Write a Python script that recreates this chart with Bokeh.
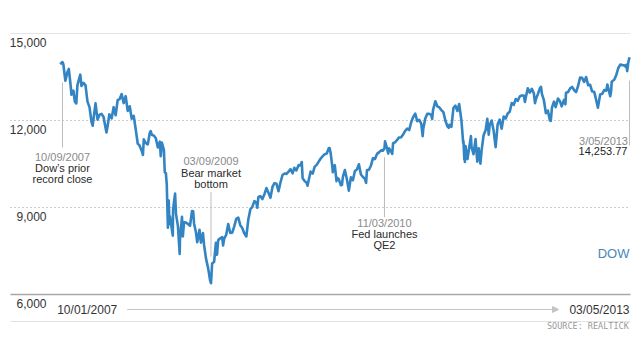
from datetime import datetime, timedelta
import pandas as pd
from bokeh.plotting import figure
from bokeh.models import Range1d, ColumnDataSource, Arrow, NormalHead
from bokeh.core.properties import value
from bokeh.embed import file_html
from bokeh.resources import INLINE

# ---------------- data ----------------
dates = [
    "2007-10-01", "2007-10-09", "2007-10-12", "2007-10-19", "2007-10-26", "2007-10-31",
    "2007-11-07", "2007-11-09", "2007-11-16", "2007-11-21", "2007-11-26", "2007-11-30",
    "2007-12-07", "2007-12-10", "2007-12-14", "2007-12-21", "2007-12-28",
    "2008-01-04", "2008-01-11", "2008-01-18", "2008-01-22", "2008-01-25", "2008-02-01",
    "2008-02-08", "2008-02-15", "2008-02-22", "2008-02-29", "2008-03-07", "2008-03-10",
    "2008-03-14", "2008-03-20", "2008-03-28", "2008-04-04", "2008-04-11", "2008-04-18",
    "2008-04-25", "2008-05-02", "2008-05-09", "2008-05-16", "2008-05-23", "2008-05-30",
    "2008-06-06", "2008-06-13", "2008-06-20", "2008-06-27", "2008-07-03", "2008-07-11",
    "2008-07-15", "2008-07-18", "2008-07-25", "2008-08-01", "2008-08-08", "2008-08-11",
    "2008-08-15", "2008-08-22", "2008-08-29", "2008-09-05", "2008-09-12", "2008-09-15",
    "2008-09-19", "2008-09-26", "2008-09-29", "2008-10-03", "2008-10-06", "2008-10-10",
    "2008-10-13", "2008-10-15", "2008-10-17", "2008-10-22", "2008-10-24", "2008-10-27",
    "2008-10-28", "2008-10-31", "2008-11-04", "2008-11-07", "2008-11-14", "2008-11-20",
    "2008-11-21", "2008-11-28", "2008-12-01", "2008-12-05", "2008-12-12", "2008-12-19",
    "2008-12-26",
    "2009-01-02", "2009-01-06", "2009-01-09", "2009-01-16", "2009-01-20", "2009-01-23",
    "2009-01-28", "2009-02-02", "2009-02-09", "2009-02-13", "2009-02-20", "2009-02-27",
    "2009-03-06", "2009-03-09", "2009-03-13", "2009-03-20", "2009-03-26", "2009-03-30",
    "2009-04-03", "2009-04-09", "2009-04-17", "2009-04-20", "2009-04-24", "2009-05-01",
    "2009-05-08", "2009-05-15", "2009-05-22", "2009-05-29", "2009-06-05", "2009-06-12",
    "2009-06-19", "2009-06-26", "2009-07-02", "2009-07-10", "2009-07-17", "2009-07-24",
    "2009-07-31", "2009-08-07", "2009-08-14", "2009-08-17", "2009-08-21", "2009-08-28",
    "2009-09-04", "2009-09-11", "2009-09-18", "2009-09-25", "2009-10-02", "2009-10-09",
    "2009-10-16", "2009-10-23", "2009-10-30", "2009-11-06", "2009-11-13", "2009-11-20",
    "2009-11-27", "2009-12-04", "2009-12-11", "2009-12-18", "2009-12-24", "2009-12-31",
    "2010-01-08", "2010-01-15", "2010-01-19", "2010-01-22", "2010-01-29", "2010-02-05",
    "2010-02-08", "2010-02-12", "2010-02-19", "2010-02-26", "2010-03-05", "2010-03-12",
    "2010-03-19", "2010-03-26", "2010-04-02", "2010-04-09", "2010-04-16", "2010-04-23",
    "2010-04-26", "2010-04-30", "2010-05-06", "2010-05-07", "2010-05-14", "2010-05-20",
    "2010-05-21", "2010-05-28", "2010-06-04", "2010-06-08", "2010-06-11", "2010-06-18",
    "2010-06-25", "2010-07-02", "2010-07-09", "2010-07-16", "2010-07-23", "2010-07-30",
    "2010-08-06", "2010-08-13", "2010-08-20", "2010-08-27", "2010-08-31", "2010-09-03",
    "2010-09-10", "2010-09-17", "2010-09-24", "2010-10-01", "2010-10-08", "2010-10-15",
    "2010-10-22", "2010-10-29", "2010-11-03", "2010-11-05", "2010-11-12", "2010-11-16",
    "2010-11-19", "2010-11-26", "2010-11-30", "2010-12-03", "2010-12-10", "2010-12-17",
    "2010-12-23", "2010-12-31",
    "2011-01-07", "2011-01-14", "2011-01-21", "2011-01-28", "2011-02-04", "2011-02-11",
    "2011-02-18", "2011-02-25", "2011-03-04", "2011-03-11", "2011-03-16", "2011-03-18",
    "2011-03-25", "2011-04-01", "2011-04-08", "2011-04-15", "2011-04-18", "2011-04-21",
    "2011-04-29", "2011-05-06", "2011-05-13", "2011-05-20", "2011-05-27", "2011-06-03",
    "2011-06-10", "2011-06-15", "2011-06-17", "2011-06-24", "2011-07-01", "2011-07-08",
    "2011-07-15", "2011-07-21", "2011-07-29", "2011-08-04", "2011-08-05", "2011-08-08",
    "2011-08-09", "2011-08-10", "2011-08-12", "2011-08-19", "2011-08-26", "2011-08-31",
    "2011-09-02", "2011-09-09", "2011-09-16", "2011-09-22", "2011-09-27", "2011-09-30",
    "2011-10-03", "2011-10-07", "2011-10-14", "2011-10-21", "2011-10-27", "2011-11-01",
    "2011-11-04", "2011-11-11", "2011-11-18", "2011-11-25", "2011-12-02", "2011-12-09",
    "2011-12-16", "2011-12-23", "2011-12-30",
    "2012-01-06", "2012-01-13", "2012-01-20", "2012-01-27", "2012-02-03", "2012-02-10",
    "2012-02-17", "2012-02-24", "2012-03-02", "2012-03-06", "2012-03-09", "2012-03-16",
    "2012-03-23", "2012-03-30", "2012-04-06", "2012-04-10", "2012-04-13", "2012-04-20",
    "2012-04-27", "2012-05-01", "2012-05-04", "2012-05-11", "2012-05-18", "2012-05-25",
    "2012-06-01", "2012-06-04", "2012-06-08", "2012-06-15", "2012-06-21", "2012-06-29",
    "2012-07-06", "2012-07-12", "2012-07-20", "2012-07-25", "2012-07-27", "2012-08-03",
    "2012-08-10", "2012-08-17", "2012-08-24", "2012-08-31", "2012-09-07", "2012-09-14",
    "2012-09-21", "2012-09-28", "2012-10-05", "2012-10-12", "2012-10-19", "2012-10-26",
    "2012-11-02", "2012-11-09", "2012-11-15", "2012-11-23", "2012-11-30", "2012-12-07",
    "2012-12-14", "2012-12-18", "2012-12-28", "2012-12-31",
    "2013-01-02", "2013-01-04", "2013-01-11", "2013-01-18", "2013-01-25", "2013-02-01",
    "2013-02-08", "2013-02-15", "2013-02-20", "2013-02-22", "2013-02-25", "2013-03-01",
    "2013-03-05",
]
dow = [
    13940, 14015, 13940, 13370, 13660, 13780,
    13150, 12890, 13030, 12650, 12590, 13220,
    13480, 13580, 13190, 13300, 13220,
    12650, 12460, 11950, 11820, 12060, 12590,
    12030, 12200, 12230, 12120, 11740, 11590,
    11800, 12210, 12070, 12460, 12180, 12700,
    12740, 12910, 12600, 12840, 12330, 12490,
    12060, 12160, 11690, 11200, 11140, 10950,
    10810, 11350, 11220, 11180, 11580, 11630,
    11510, 11480, 11390, 11070, 11270, 10770,
    11240, 10990, 10220, 10180, 9800, 8300,
    9240, 8430, 8700, 8370, 8230, 8030,
    8920, 9180, 9480, 8790, 8350, 7400,
    7900, 8680, 8000, 8490, 8480, 8430,
    8370,
    8880, 8870, 8450, 8130, 7800, 7930,
    8230, 7790, 8120, 7700, 7220, 6910,
    6480, 6390, 7070, 7130, 7780, 7370,
    7870, 7930, 7980, 7690, 7930, 8060,
    8430, 8120, 8130, 8350, 8610, 8650,
    8390, 8290, 8130, 8000, 8590, 8940,
    9020, 9220, 9170, 8990, 9360, 9390,
    9290, 9460, 9670, 9510, 9340, 9710,
    9840, 9820, 9560, 9870, 10120, 10170,
    10160, 10240, 10320, 10180, 10370, 10280,
    10460, 10450, 10570, 10010, 9910, 9850,
    9750, 9940, 10240, 10170, 10410, 10470,
    10580, 10690, 10770, 10840, 10860, 11040,
    11050, 10850, 10360, 10220, 10460, 9910,
    10030, 9980, 9770, 9780, 10050, 10290,
    9980, 9580, 10040, 9940, 10260, 10310,
    10490, 10140, 10050, 9990, 9850, 10290,
    10300, 10450, 10700, 10670, 10850, 10900,
    10970, 10960, 11050, 11280, 11030, 10860,
    11040, 10930, 10850, 11220, 11250, 11330,
    11410, 11420,
    11520, 11640, 11720, 11670, 11940, 12120,
    12240, 11980, 12020, 11890, 11460, 11710,
    12070, 12230, 12230, 12190, 12050, 12360,
    12660, 12490, 12450, 12360, 12290, 12000,
    11800, 11750, 11850, 11780, 12430, 12510,
    12330, 12570, 11990, 11230, 11290, 10660,
    11090, 10570, 11120, 10670, 11130, 11460,
    11090, 10840, 11360, 10580, 11040, 10760,
    10510, 10950, 11490, 11660, 12060, 11510,
    11830, 12000, 11650, 11080, 11870, 12030,
    11720, 12140, 12070,
    12240, 12300, 12600, 12540, 12740, 12680,
    12830, 12860, 12860, 12640, 12800, 13110,
    12960, 13090, 12940, 12600, 12730, 12910,
    13110, 13160, 12920, 12700, 12250, 12340,
    12000, 11990, 12440, 12650, 12460, 12760,
    12660, 12490, 12710, 12560, 12960, 12980,
    13100, 13160, 13050, 12980, 13190, 13480,
    13470, 13330, 13500, 13220, 13230, 13000,
    12990, 12710, 12440, 12900, 12920, 13050,
    13030, 13240, 12840, 13000,
    13330, 13350, 13410, 13570, 13810, 13930,
    13910, 13900, 13850, 13920, 13700, 14010,
    14180,
]
y_ticks = [15000, 12000, 9000, 6000]
y_tick_labels = ["15,000", "12,000", "9,000", "6,000"]
grid_dotted = [12000, 9000]

event_dates = ["2007-10-09", "2009-03-09", "2010-11-03"]
event_date_labels = ["10/09/2007", "03/09/2009", "11/03/2010"]
event_line1 = ["Dow\u2019s prior", "Bear market", "Fed launches"]
event_line2 = ["record close", "bottom", "QE2"]
last_date_label = "3/05/2013"
last_close_label = "14,253.77"
start_label = "10/01/2007"
end_label = "03/05/2013"
series_name = "DOW"
source_text = "SOURCE: REALTICK"

# ---------------- layout helpers (page pixel -> data) ----------------
EPOCH = datetime(1970, 1, 1)
X0 = datetime(2007, 10, 1)
PX0 = 59.7
PPD = 0.28723          # pixels per day
PAGE_L, PAGE_T = 0, 0
W, H = 640, 360


def ms(d):
    return (d - EPOCH).total_seconds() * 1000.0


def dx(px):
    return ms(X0 + timedelta(days=(px - PX0) / PPD))


def vy(py):
    return 15000 - (py - 33) * 3000.0 / 87.0


FONT = value("Liberation Sans")

p = figure(width=W, height=H,
           x_range=Range1d(dx(PAGE_L), dx(PAGE_L + W)),
           y_range=Range1d(vy(PAGE_T + H), vy(PAGE_T)),
           x_axis_location=None, y_axis_location=None,
           toolbar_location=None, output_backend="svg",
           min_border=0, outline_line_color=None,
           background_fill_color="white", border_fill_color="white")
p.xgrid.visible = False
p.ygrid.visible = False

xl, xr = dx(10), dx(630)

# gridlines
p.segment(x0=[xl], x1=[xr], y0=[y_ticks[0]], y1=[y_ticks[0]],
          line_color="#e4e4e4", line_width=1)
p.segment(x0=[xl] * len(grid_dotted), x1=[xr] * len(grid_dotted),
          y0=grid_dotted, y1=grid_dotted,
          line_color="#9a9a9a", line_width=1, line_dash="1 3")
p.segment(x0=[xl], x1=[xr], y0=[y_ticks[-1]], y1=[y_ticks[-1]],
          line_color="#a8a8a8", line_width=1.5)
p.segment(x0=[xl], x1=[xr], y0=[vy(321)], y1=[vy(321)],
          line_color="#e2e2e2", line_width=1)

# y tick labels (below their gridline)
p.text(x=[dx(46)] * len(y_ticks), y=y_ticks, text=y_tick_labels,
       text_font=FONT, text_font_size="12px", text_color="#333333",
       text_align="right", text_baseline="middle", y_offset=9)

# event markers
ev = pd.to_datetime(event_dates)
top_px = [82, 191.5, 156.7]
bot_px = [147, 256, 216.7]
p.segment(x0=ev, x1=ev, y0=[vy(v) for v in top_px], y1=[vy(v) for v in bot_px],
          line_color="#bdbdbd", line_width=1)
# last point marker line
last = pd.to_datetime([dates[-1]])
p.segment(x0=last, x1=last, y0=[vy(80)], y1=[vy(145)],
          line_color="#bdbdbd", line_width=1)

# DOW line
src = ColumnDataSource(dict(date=pd.to_datetime(dates), close=dow))
p.line("date", "close", source=src, line_color="#3284c3", line_width=2.6,
       line_join="round")

# event labels
lab_px = [156, 160.7, 222.3]
for i in range(3):
    base = vy(lab_px[i])
    p.text(x=[ev[i]], y=[base], text=[event_date_labels[i]], text_font=FONT,
           text_font_size="11px", text_color="#8a8a8a",
           text_align="center", text_baseline="middle")
    p.text(x=[ev[i]], y=[base], text=[event_line1[i]], text_font=FONT,
           text_font_size="11px", text_color="#2a2a2a",
           text_align="center", text_baseline="middle", y_offset=11.5)
    p.text(x=[ev[i]], y=[base], text=[event_line2[i]], text_font=FONT,
           text_font_size="11px", text_color="#2a2a2a",
           text_align="center", text_baseline="middle", y_offset=22.5)

p.text(x=last, y=[vy(140)], text=[last_date_label], text_font=FONT,
       text_font_size="11px", text_color="#8a8a8a", text_align="right",
       text_baseline="middle", x_offset=-1.5)
p.text(x=last, y=[vy(140)], text=[last_close_label], text_font=FONT,
       text_font_size="11px", text_color="#1e1e1e", text_align="right",
       text_baseline="middle", x_offset=-2, y_offset=10.7)

# series name
p.text(x=[dx(629)], y=[vy(252.7)], text=[series_name], text_font=FONT,
       text_font_size="13px", text_color="#4a86b6", text_align="right",
       text_baseline="middle")

# date range footer
p.text(x=[dx(56.7)], y=[vy(309.3)], text=[start_label], text_font=FONT,
       text_font_size="12px", text_color="#333333", text_align="left",
       text_baseline="middle")
p.text(x=[dx(629)], y=[vy(309.3)], text=[end_label], text_font=FONT,
       text_font_size="12px", text_color="#333333", text_align="right",
       text_baseline="middle")
p.add_layout(Arrow(x_start=dx(126.7), y_start=vy(309), x_end=dx(558), y_end=vy(309),
                   line_color="#c4c4c4", line_width=1,
                   end=NormalHead(size=6, line_color="#c4c4c4", fill_color="#c4c4c4")))

# source
p.text(x=[dx(628.3)], y=[vy(325.3)], text=[source_text],
       text_font=value("DejaVu Sans Mono"), text_font_size="8.5px",
       text_color="#9a9a9a", text_align="right", text_baseline="middle")

open("out.html", "w").write(file_html(p, INLINE))
